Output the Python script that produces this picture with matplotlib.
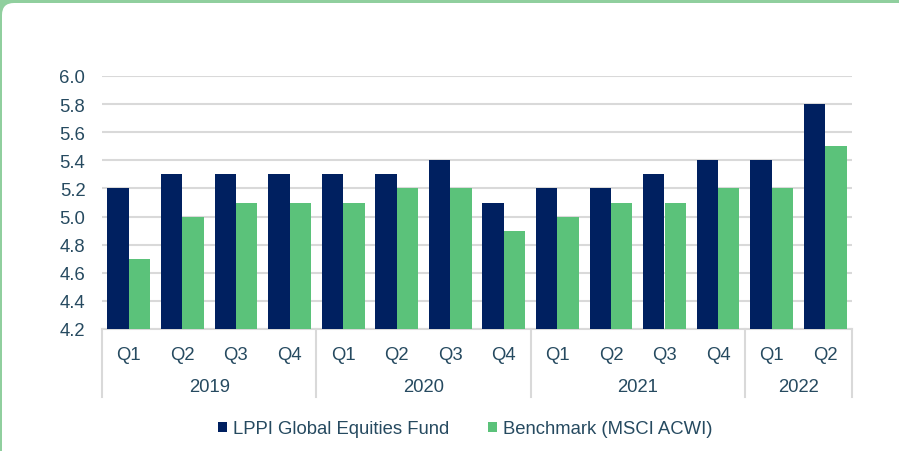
import matplotlib
matplotlib.use("Agg")
import matplotlib.pyplot as plt
from matplotlib.patches import Rectangle, FancyBboxPatch
from matplotlib.transforms import IdentityTransform, blended_transform_factory
import numpy as np

plt.rcParams['font.family'] = ['Liberation Sans', 'DejaVu Sans']

years = ["2019", "2020", "2021", "2022"]
quarters = ["Q1", "Q2", "Q3", "Q4", "Q1", "Q2", "Q3", "Q4",
            "Q1", "Q2", "Q3", "Q4", "Q1", "Q2"]
year_counts = [4, 4, 4, 2]
fund = [5.2, 5.3, 5.3, 5.3, 5.3, 5.3, 5.4, 5.1, 5.2, 5.2, 5.3, 5.4, 5.4, 5.8]
bench = [4.7, 5.0, 5.1, 5.1, 5.1, 5.2, 5.2, 4.9, 5.0, 5.1, 5.1, 5.2, 5.2, 5.5]
series_names = ["LPPI Global Equities Fund", "Benchmark (MSCI ACWI)"]

navy = "#002060"
green = "#5bc27a"
text_col = "#264a60"
grid_col = "#d9d9d9"
border_col = "#90cf9e"
fs = 13.3

W, H = 899, 452
fig = plt.figure(figsize=(W / 100, H / 100), dpi=100)

# border frame
fig.patches.append(Rectangle((0, 0), 1, 1, transform=fig.transFigure,
                             facecolor=border_col, edgecolor='none', zorder=-10))
fig.patches.append(FancyBboxPatch((2, -30), W + 30, H - 4 + 30,
                                  boxstyle="round,pad=0,rounding_size=12",
                                  transform=IdentityTransform(),
                                  facecolor="white", edgecolor='none', zorder=-9))

ax = fig.add_axes([102 / W, 1 - 330 / H, 750 / W, 253 / H])
ax.set_facecolor('none')
n = len(quarters)
x = np.arange(n)
bw = 0.4
ax.bar(x - bw / 2, fund, bw, color=navy, label=series_names[0], zorder=3)
ax.bar(x + bw / 2, bench, bw, color=green, label=series_names[1], zorder=3)

ax.set_xlim(-0.5, n - 0.5)
ax.set_ylim(4.2, 6.0)
ax.set_yticks(np.arange(4.2, 6.01, 0.2))
ax.set_yticklabels([f"{v:.1f}" for v in np.arange(4.2, 6.01, 0.2)])
ax.yaxis.grid(True, color=grid_col, linewidth=1.5, zorder=0)
ax.set_axisbelow(True)
for s in ['top', 'right', 'left']:
    ax.spines[s].set_visible(False)
ax.spines['bottom'].set_color(grid_col)
ax.spines['bottom'].set_linewidth(1.5)
ax.tick_params(axis='y', length=0, pad=12, labelsize=fs, labelcolor=text_col)
ax.set_xticks(x)
ax.set_xticklabels(quarters)
ax.tick_params(axis='x', length=0, pad=12, labelsize=fs, labelcolor=text_col)

trans = blended_transform_factory(ax.transData, ax.transAxes)
bounds = np.concatenate([[0], np.cumsum(year_counts)]) - 0.5
sep_len = 68 / 253
for b in bounds:
    ax.plot([b, b], [0, -sep_len], transform=trans, color=grid_col,
            linewidth=1.5, clip_on=False)
for i, yr in enumerate(years):
    c = (bounds[i] + bounds[i + 1]) / 2
    ax.text(c, -57 / 253, yr, transform=trans, ha='center', va='center',
            fontsize=fs, color=text_col)

leg = fig.legend(loc='center', bbox_to_anchor=(465 / W, 1 - 430 / H), ncol=2,
                 frameon=False, handlelength=0.5, handleheight=0.5,
                 handletextpad=0.3, columnspacing=2.1, fontsize=fs)
for t in leg.get_texts():
    t.set_color(text_col)

fig.savefig("out.png", dpi=100)
